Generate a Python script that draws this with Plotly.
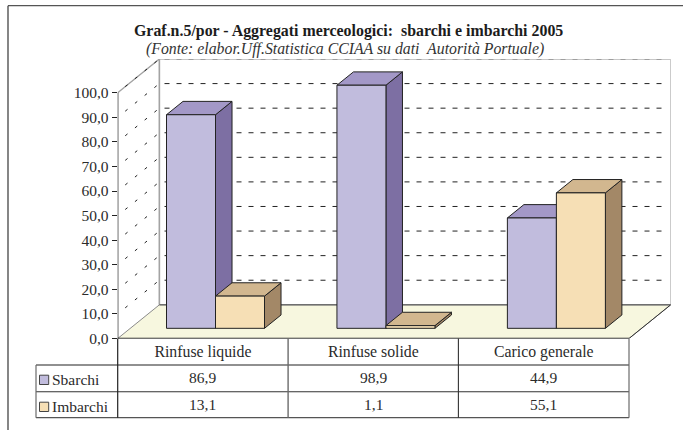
import plotly.graph_objects as go

# ---- data ----
categories = ["Rinfuse liquide", "Rinfuse solide", "Carico generale"]
sbarchi = [86.9, 98.9, 44.9]
imbarchi = [13.1, 1.1, 55.1]
series_names = ["Sbarchi", "Imbarchi"]
y_ticks = [0, 10, 20, 30, 40, 50, 60, 70, 80, 90, 100]
title_text = "Graf.n.5/por - Aggregati merceologici:  sbarchi e imbarchi 2005"
subtitle_text = "(Fonte: elabor.Uff.Statistica CCIAA su dati  Autorità Portuale)"

# ---- geometry (pixels of the 683x430 page) ----
W, H = 683, 430
X0, X3 = 117.7, 629.0      # front edge of the floor
Y0, Y100 = 338.5, 92.7     # front plane 0 and 100
DEPTH_X, DEPTH_Y = 41.7, 33.7
UX = (X3 - X0) / 3
UY = (Y0 - Y100) / 100
DX, DY = DEPTH_X / UX, DEPTH_Y / UY
BAR_W = 49.0 / UX
D1, D2 = 0.302, 0.698
XMAX = 3 + DX
YMAX = 100 + DY
SERIF = "Liberation Serif"
INK = "#222222"
GREY = "#a3a3a3"
TEXT = "#2b2b2b"


def px(x):
    return x / W


def py(y):
    return 1 - y / H


def proj(x, y, d):
    return x + d * DX, y + d * DY


fig = go.Figure()


def poly(points, fill=None, line=INK, width=1.0, dash=None, name=""):
    xs = [p[0] for p in points]
    ys = [p[1] for p in points]
    kw = dict(x=xs, y=ys, mode="lines", cliponaxis=False, hoverinfo="skip",
              showlegend=False, name=name,
              line=dict(color=line, width=width, dash=dash))
    if fill:
        kw.update(fill="toself", fillcolor=fill)
    fig.add_trace(go.Scatter(**kw))


# walls
poly([proj(0, 0, 1), proj(3, 0, 1), proj(3, 100, 1), proj(0, 100, 1), proj(0, 0, 1)],
     fill="#ffffff", line="#b5b5b5", width=1.4)
poly([proj(0, 0, 1), proj(0, 100, 1), proj(0, 100, 0)], line=GREY, width=1.4)
# floor
poly([proj(0, 0, 0), proj(3, 0, 0), proj(3, 0, 1), proj(0, 0, 1), proj(0, 0, 0)],
     fill="#f7f7df", line="#8a8a8a", width=1.0)
poly([proj(0, 0, 1), proj(3, 0, 1)], line="#6f6f6f", width=1.5)
poly([proj(3, 0, 0), proj(3, 0, 1)], line="#333333", width=1.0)

# gridlines
for v in y_ticks[1:]:
    poly([proj(0, v, 0.18), proj(0, v, 1)], line=INK, width=1.0, dash="3px,9.5px")
    poly([proj(0.03, v, 1), proj(2.96, v, 1)], line=INK if v < 100 else "#777777",
         width=1.0, dash="5px,7px")

# bars, drawn back to front
colors = [("#c1bcdd", "#a398c7", "#7d6fa3"), ("#f6dfb5", "#d2b78f", "#a38867")]
for i in range(3):
    centre = i + 0.5
    for s, (vals, (front, top, side)) in enumerate(zip((sbarchi, imbarchi), colors)):
        left = centre - BAR_W + s * BAR_W
        right = left + BAR_W
        v = vals[i]
        poly([proj(right, 0, D1), proj(right, 0, D2), proj(right, v, D2), proj(right, v, D1), proj(right, 0, D1)],
             fill=side, name=series_names[s])
        poly([proj(left, v, D1), proj(right, v, D1), proj(right, v, D2), proj(left, v, D2), proj(left, v, D1)],
             fill=top, name=series_names[s])
        poly([proj(left, 0, D1), proj(right, 0, D1), proj(right, v, D1), proj(left, v, D1), proj(left, 0, D1)],
             fill=front, name=series_names[s])

# value axis line and floor front edge
poly([(0, 0), (0, 100)], line=INK, width=1.3)
poly([(0, 0), (3, 0)], line=INK, width=1.3)


# table and frame
def hline(y, x1, x2, color, width=1.2):
    fig.add_shape(type="line", xref="paper", yref="paper", x0=px(x1), x1=px(x2), y0=py(y), y1=py(y),
                  line=dict(color=color, width=width))


def vline(x, y1, y2, color, width=1.2):
    fig.add_shape(type="line", xref="paper", yref="paper", x0=px(x), x1=px(x), y0=py(y1), y1=py(y2),
                  line=dict(color=color, width=width))


R1, R2, R3 = 365.0, 391.7, 417.7
hline(R1, 36, X3, "#6b6b6b", 1.6)
hline(R2, 36, X3, "#333333", 1.1)
hline(R3, 36, X3, "#555555", 1.2)
vline(36, R1, R3, "#6b6b6b", 1.2)
vline(X0, Y0, R3, INK, 1.2)
vline(288.1, Y0, R3, "#6b6b6b", 1.4)
vline(458.4, Y0, R3, "#333333", 1.1)
vline(X3, Y0, R3, "#6b6b6b", 1.2)
# outer frame
hline(5.7, 8, 683, "#555555", 1.3)
vline(8, 5.7, 430, "#444444", 1.3)

for i in range(3):
    fig.add_annotation(text=f"{sbarchi[i]:.1f}".replace(".", ","), xref="x", yref="paper", x=i + 0.5, y=py(377.8),
                       yanchor="middle", showarrow=False, font=dict(family=SERIF, size=15.5, color=TEXT))
    fig.add_annotation(text=f"{imbarchi[i]:.1f}".replace(".", ","), xref="x", yref="paper", x=i + 0.5, y=py(404.2),
                       yanchor="middle", showarrow=False, font=dict(family=SERIF, size=15.5, color=TEXT))

for name, (front, _, _), ky, ty in zip(series_names, colors, (375.2, 402.2), (379.8, 406.8)):
    fig.add_shape(type="rect", xref="paper", yref="paper", x0=px(39.5), x1=px(48.7), y0=py(ky), y1=py(ky + 9.3),
                  fillcolor=front, line=dict(color="#444444", width=1))
    fig.add_annotation(text=name, xref="paper", yref="paper", x=px(50), y=py(ty), showarrow=False,
                       xanchor="left", yanchor="middle", font=dict(family=SERIF, size=15.5, color=TEXT))

# titles
fig.add_annotation(text=f"<b>{title_text}</b>", xref="paper", yref="paper", x=px(348), y=py(31),
                   yanchor="middle", showarrow=False, font=dict(family=SERIF, size=15.9, color="#1c1c1c"))
fig.add_annotation(text=f"<i>{subtitle_text}</i>", xref="paper", yref="paper", x=px(345), y=py(49.5),
                   yanchor="middle", showarrow=False, font=dict(family=SERIF, size=15.8, color="#333333"))

fig.update_layout(
    width=W, height=H, margin=dict(l=0, r=0, t=0, b=0, autoexpand=False), autosize=False,
    paper_bgcolor="white", plot_bgcolor="rgba(0,0,0,0)", showlegend=False,
    separators=",.",
    xaxis=dict(domain=[px(X0), px(X3 + DEPTH_X)], range=[0, XMAX], showgrid=False, zeroline=False,
               tickmode="array", tickvals=[0.5, 1.5, 2.5], ticktext=categories, ticks="",
               tickfont=dict(family=SERIF, size=15.8, color=TEXT), ticklabelstandoff=2, showline=False),
    yaxis=dict(domain=[py(Y0), py(Y100 - DEPTH_Y)], range=[0, YMAX], showgrid=False, zeroline=False,
               tickmode="array", tickvals=y_ticks, tickformat=".1f", ticks="outside", ticklen=5,
               tickcolor=INK, tickwidth=1, tickfont=dict(family=SERIF, size=15.5, color=TEXT), showline=False),
)

fig.write_html("out.html", config={"displayModeBar": False},
               post_script="document.body.style.margin='0';document.documentElement.style.overflow='hidden';")
